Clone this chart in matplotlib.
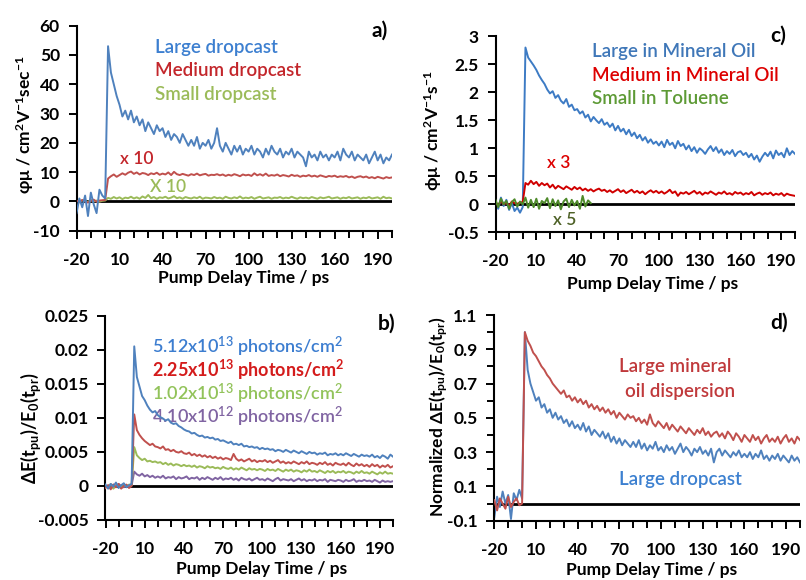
import numpy as np
import matplotlib
matplotlib.use("Agg")
import matplotlib.pyplot as plt

plt.rcParams['font.family'] = ['Lato', 'DejaVu Sans']
plt.rcParams['mathtext.default'] = 'regular'
plt.rcParams['axes.unicode_minus'] = False

# time grid (ps), shared by all traces
t = np.arange(-20, 201, 2)
t_toluene = np.arange(-20, 51, 2)

# ---- panel a: phi*mu, dropcast films
a_large = [-4, 1, -2, 2, -5, 3, -1, -4, 4, 2,
           1, 53, 44, 40, 36, 33, 29, 31, 28, 31,
           27, 29, 26, 28, 24, 27, 25, 23, 26, 24,
           25, 22, 24, 21, 23, 22, 20, 23, 21, 19,
           21, 19, 22, 18, 20, 19, 21, 18, 20, 25,
           19, 17, 20, 18, 16, 19, 17, 19, 16, 18,
           17, 19, 16, 18, 17, 15, 18, 16, 19, 17,
           16, 18, 15, 17, 16, 18, 15, 17, 16, 15,
           12, 17, 15, 16, 14, 17, 15, 16, 14, 16,
           15, 17, 14, 18, 16, 15, 17, 14, 16, 15,
           14, 16, 13, 15, 17, 14, 16, 13, 15, 14,
           16]
a_medium = [0.3, -0.2, 0.5, 0.0, -0.4, 0.2, 0.6, -0.1, 0.3, 0.4,
            0.5, 7.8, 8.6, 9.2, 8.4, 9.0, 9.6, 9.1, 9.8, 10.2,
            9.4, 9.9, 9.2, 9.7, 9.5, 9.0, 9.6, 9.3, 9.8, 9.1,
            9.5, 9.2, 9.9, 9.0, 10.1, 9.3, 9.0, 9.4, 9.1, 8.8,
            9.3, 9.0, 9.5, 8.9, 9.2, 9.4, 8.8, 9.1, 9.0, 9.3,
            8.9, 9.2, 8.7, 9.1, 8.8, 9.3, 9.0, 8.6, 9.2, 8.9,
            9.1, 8.7, 9.6, 8.9, 9.3, 8.8, 9.5, 8.7, 9.0, 8.8,
            9.2, 8.6, 9.0, 8.8, 8.5, 9.1, 8.7, 8.9, 8.4, 8.8,
            8.6, 9.0, 8.5, 8.8, 8.4, 8.9, 8.6, 8.3, 8.7, 8.5,
            8.8, 8.3, 8.6, 8.4, 8.7, 8.2, 8.5, 8.0, 8.4, 8.6,
            8.2, 8.5, 8.0, 8.3, 7.9, 8.4, 8.1, 7.8, 8.3, 8.0,
            8.2]
a_small = [0.2, -0.3, 0.4, 0.1, -0.2, 0.5, 0.0, 0.3, -0.1, 0.2,
           0.3, 1.2, 0.9, 1.5, 1.0, 1.4, 0.8, 1.3, 1.1, 1.6,
           1.0, 1.4, 0.9, 1.7, 1.2, 2.2, 1.1, 1.5, 0.9, 1.4,
           1.2, 1.6, 1.0, 1.3, 1.8, 1.1, 1.4, 0.9, 1.5, 1.2,
           1.0, 1.4, 1.1, 1.6, 0.9, 1.3, 1.2, 1.0, 1.5, 1.1,
           1.3, 0.9, 1.6, 1.2, 1.0, 1.4, 1.1, 1.7, 1.0, 1.3,
           1.1, 1.5, 0.9, 1.3, 1.6, 1.0, 1.2, 1.4, 0.9, 1.3,
           1.2, 1.5, 1.0, 1.3, 1.1, 1.6, 1.2, 0.9, 1.4, 1.1,
           1.3, 1.0, 1.5, 1.2, 0.9, 1.4, 1.1, 1.3, 1.6, 1.0,
           1.2, 1.4, 0.9, 1.3, 1.1, 1.5, 1.0, 1.2, 1.4, 0.9,
           1.3, 1.1, 1.5, 1.0, 1.2, 1.4, 0.9, 1.6, 1.1, 1.3,
           1.0]

# ---- panel c: phi*mu, dispersions
c_large = [0.05, -0.08, 0.12, -0.03, 0.08, -0.10, 0.02, -0.12, -0.06, -0.15,
           -0.05, 2.80, 2.62, 2.55, 2.48, 2.40, 2.30, 2.22, 2.15, 2.05,
           1.98, 2.02, 1.90, 1.95, 1.85, 1.80, 1.88, 1.74, 1.78, 1.68,
           1.70, 1.62, 1.66, 1.55, 1.60, 1.48, 1.56, 1.50, 1.45, 1.52,
           1.42, 1.46, 1.38, 1.44, 1.32, 1.40, 1.30, 1.35, 1.25, 1.33,
           1.22, 1.28, 1.18, 1.24, 1.14, 1.20, 1.10, 1.16, 1.08, 1.12,
           1.05, 1.12, 1.02, 1.15, 1.06, 1.10, 1.00, 1.13, 1.04, 1.08,
           0.98, 1.05, 0.95, 1.02, 0.92, 1.00, 0.96, 0.90, 0.98, 1.04,
           0.95, 1.02, 0.92, 0.98, 0.88, 0.95, 0.90, 0.97, 0.86, 0.93,
           0.95, 0.88, 0.92, 0.84, 0.90, 0.80, 0.87, 0.76, 0.85, 0.92,
           0.86, 0.94, 0.82, 0.96, 0.88, 0.92, 0.84, 1.00, 0.88, 0.95,
           0.90]
c_medium = [0.04, -0.02, 0.06, 0.00, 0.03, -0.03, 0.05, 0.02, 0.01, 0.03,
            0.04, 0.38, 0.35, 0.42, 0.36, 0.40, 0.33, 0.38, 0.34, 0.37,
            0.30, 0.35, 0.28, 0.33, 0.30, 0.27, 0.32, 0.29, 0.26, 0.31,
            0.27, 0.30, 0.25, 0.28, 0.24, 0.27, 0.23, 0.26, 0.28, 0.24,
            0.26, 0.22, 0.25, 0.21, 0.24, 0.27, 0.22, 0.25, 0.20, 0.23,
            0.26, 0.21, 0.24, 0.20, 0.23, 0.18, 0.22, 0.25, 0.21, 0.24,
            0.20, 0.23, 0.19, 0.22, 0.26, 0.20, 0.23, 0.15, 0.21, 0.19,
            0.22, 0.18, 0.21, 0.24, 0.19, 0.22, 0.17, 0.21, 0.19, 0.23,
            0.20, 0.17, 0.21, 0.19, 0.23, 0.18, 0.20, 0.17, 0.22, 0.19,
            0.21, 0.17, 0.20, 0.18, 0.22, 0.16, 0.19, 0.21, 0.17, 0.20,
            0.18, 0.21, 0.16, 0.19, 0.17, 0.20, 0.15, 0.19, 0.17, 0.16,
            0.15]
c_small = [0.08, -0.05, 0.10, 0.00, 0.06, -0.08, 0.04, 0.09, -0.04, 0.05,
           0.00, 0.12, -0.06, 0.08, -0.05, 0.10, -0.08, 0.06, 0.02, 0.11,
           -0.07, 0.09, -0.03, 0.07, -0.09, 0.05, 0.10, -0.05, 0.08, -0.02,
           0.06, -0.08, 0.15, -0.04, 0.07, 0.02]

# ---- panel b: dE/E0, large dropcast at four fluences
b_512e13 = [0.0002, -0.0004, 0.0003, -0.0001, 0.0005, -0.0003, 0.0001, 0.0004, -0.0002, 0.0001,
            0.0003, 0.0205, 0.0160, 0.0146, 0.0132, 0.0126, 0.0118, 0.0112, 0.0108, 0.0110,
            0.0104, 0.0101, 0.0099, 0.0096, 0.0098, 0.0093, 0.0091, 0.0092, 0.0088, 0.0086,
            0.0083, 0.0081, 0.0080, 0.0077, 0.0078, 0.0075, 0.0073, 0.0074, 0.0071, 0.0072,
            0.0070, 0.0071, 0.0068, 0.0069, 0.0066, 0.0067, 0.0065, 0.0063, 0.0065, 0.0061,
            0.0062, 0.0060, 0.0062, 0.0058, 0.0059, 0.0057, 0.0058, 0.0056, 0.0057, 0.0054,
            0.0056, 0.0054, 0.0055, 0.0053, 0.0054, 0.0051, 0.0053, 0.0052, 0.0050, 0.0053,
            0.0051, 0.0049, 0.0052, 0.0050, 0.0048, 0.0051, 0.0049, 0.0047, 0.0050, 0.0048,
            0.0049, 0.0046, 0.0048, 0.0047, 0.0049, 0.0045, 0.0047, 0.0046, 0.0048, 0.0045,
            0.0047, 0.0045, 0.0048, 0.0046, 0.0044, 0.0047, 0.0045, 0.0043, 0.0046, 0.0044,
            0.0045, 0.0043, 0.0046, 0.0042, 0.0044, 0.0041, 0.0045, 0.0043, 0.0040, 0.0046,
            0.0043]
b_225e13 = [-0.0003, 0.0001, -0.0005, 0.0002, -0.0002, 0.0003, -0.0004, 0.0000, 0.0002, -0.0003,
            0.0000, 0.0105, 0.0082, 0.0075, 0.0070, 0.0066, 0.0063, 0.0060, 0.0062, 0.0058,
            0.0057, 0.0055, 0.0058, 0.0053, 0.0054, 0.0051, 0.0053, 0.0050, 0.0049, 0.0051,
            0.0048, 0.0047, 0.0049, 0.0045, 0.0047, 0.0044, 0.0046, 0.0043, 0.0045, 0.0042,
            0.0044, 0.0041, 0.0043, 0.0040, 0.0042, 0.0039, 0.0041, 0.0040, 0.0038, 0.0047,
            0.0040, 0.0037, 0.0039, 0.0036, 0.0038, 0.0040, 0.0036, 0.0038, 0.0035, 0.0037,
            0.0036, 0.0038, 0.0035, 0.0037, 0.0034, 0.0036, 0.0038, 0.0034, 0.0036, 0.0033,
            0.0035, 0.0033, 0.0036, 0.0034, 0.0032, 0.0035, 0.0033, 0.0036, 0.0032, 0.0034,
            0.0033, 0.0031, 0.0034, 0.0032, 0.0035, 0.0031, 0.0033, 0.0030, 0.0034, 0.0032,
            0.0031, 0.0033, 0.0030, 0.0034, 0.0031, 0.0029, 0.0033, 0.0030, 0.0032, 0.0029,
            0.0031, 0.0028, 0.0032, 0.0029, 0.0031, 0.0027, 0.0030, 0.0028, 0.0031, 0.0027,
            0.0029]
b_102e13 = [0.0001, -0.0002, 0.0003, -0.0004, 0.0000, 0.0002, -0.0003, 0.0001, -0.0001, 0.0002,
            0.0001, 0.0057, 0.0045, 0.0041, 0.0038, 0.0040, 0.0036, 0.0037, 0.0035, 0.0036,
            0.0034, 0.0035, 0.0032, 0.0034, 0.0031, 0.0033, 0.0030, 0.0032, 0.0031, 0.0029,
            0.0031, 0.0029, 0.0030, 0.0028, 0.0030, 0.0027, 0.0029, 0.0028, 0.0026, 0.0029,
            0.0027, 0.0028, 0.0026, 0.0027, 0.0025, 0.0028, 0.0026, 0.0025, 0.0027, 0.0024,
            0.0026, 0.0024, 0.0027, 0.0025, 0.0023, 0.0026, 0.0024, 0.0025, 0.0023, 0.0025,
            0.0024, 0.0022, 0.0025, 0.0023, 0.0024, 0.0022, 0.0025, 0.0023, 0.0021, 0.0024,
            0.0022, 0.0024, 0.0021, 0.0023, 0.0022, 0.0020, 0.0023, 0.0021, 0.0024, 0.0021,
            0.0022, 0.0020, 0.0023, 0.0021, 0.0019, 0.0022, 0.0020, 0.0022, 0.0019, 0.0021,
            0.0020, 0.0022, 0.0019, 0.0021, 0.0020, 0.0018, 0.0021, 0.0019, 0.0022, 0.0019,
            0.0020, 0.0018, 0.0021, 0.0019, 0.0017, 0.0020, 0.0018, 0.0021, 0.0018, 0.0019,
            0.0018]
b_410e12 = [-0.0002, 0.0001, -0.0003, 0.0002, -0.0001, 0.0003, 0.0000, -0.0002, 0.0001, -0.0001,
            0.0001, 0.0021, 0.0017, 0.0015, 0.0018, 0.0014, 0.0016, 0.0013, 0.0015, 0.0012,
            0.0014, 0.0012, 0.0015, 0.0011, 0.0013, 0.0012, 0.0014, 0.0010, 0.0013, 0.0011,
            0.0012, 0.0014, 0.0010, 0.0012, 0.0011, 0.0013, 0.0009, 0.0012, 0.0010, 0.0013,
            0.0011, 0.0009, 0.0012, 0.0010, 0.0013, 0.0009, 0.0011, 0.0010, 0.0012, 0.0009,
            0.0011, 0.0008, 0.0012, 0.0010, 0.0009, 0.0011, 0.0008, 0.0010, 0.0012, 0.0009,
            0.0010, 0.0008, 0.0011, 0.0009, 0.0007, 0.0010, 0.0012, 0.0008, 0.0010, 0.0009,
            0.0008, 0.0010, 0.0007, 0.0009, 0.0011, 0.0008, 0.0010, 0.0007, 0.0009, 0.0008,
            0.0010, 0.0007, 0.0009, 0.0008, 0.0010, 0.0006, 0.0009, 0.0008, 0.0007, 0.0009,
            0.0008, 0.0006, 0.0009, 0.0007, 0.0008, 0.0010, 0.0006, 0.0008, 0.0007, 0.0009,
            0.0007, 0.0008, 0.0006, 0.0009, 0.0007, 0.0005, 0.0008, 0.0006, 0.0007, 0.0006,
            0.0007]

# ---- panel d: normalized dE/E0
d_dropcast = [-0.08, 0.04, -0.02, 0.07, 0.00, 0.05, -0.09, 0.06, 0.02, 0.08,
              0.03, 1.00, 0.78, 0.70, 0.65, 0.60, 0.62, 0.56, 0.58, 0.53,
              0.55, 0.50, 0.53, 0.49, 0.51, 0.47, 0.49, 0.45, 0.48, 0.44,
              0.46, 0.43, 0.47, 0.42, 0.45, 0.40, 0.43, 0.41, 0.39, 0.42,
              0.38, 0.41, 0.36, 0.39, 0.35, 0.38, 0.34, 0.37, 0.35, 0.33,
              0.36, 0.33, 0.37, 0.32, 0.35, 0.31, 0.34, 0.32, 0.36, 0.31,
              0.33, 0.30, 0.34, 0.31, 0.33, 0.29, 0.32, 0.35, 0.30, 0.33,
              0.31, 0.28, 0.32, 0.30, 0.33, 0.29, 0.31, 0.28, 0.32, 0.24,
              0.30, 0.32, 0.28, 0.31, 0.29, 0.27, 0.30, 0.28, 0.31, 0.27,
              0.29, 0.27, 0.30, 0.26, 0.29, 0.27, 0.31, 0.26, 0.28, 0.25,
              0.28, 0.26, 0.29, 0.25, 0.28, 0.26, 0.24, 0.28, 0.25, 0.27,
              0.24]
d_oil = [0.02, -0.04, 0.03, 0.00, -0.03, 0.04, -0.02, 0.01, 0.03, -0.01,
         0.00, 1.00, 0.95, 0.92, 0.88, 0.86, 0.83, 0.80, 0.78, 0.75,
         0.73, 0.70, 0.68, 0.66, 0.64, 0.66, 0.62, 0.63, 0.60, 0.62,
         0.59, 0.61, 0.58, 0.60, 0.56, 0.58, 0.55, 0.57, 0.54, 0.56,
         0.53, 0.55, 0.52, 0.54, 0.50, 0.53, 0.51, 0.49, 0.52, 0.50,
         0.51, 0.48, 0.50, 0.47, 0.49, 0.46, 0.52, 0.47, 0.45, 0.48,
         0.46, 0.44, 0.47, 0.43, 0.46, 0.44, 0.42, 0.45, 0.43, 0.41,
         0.44, 0.42, 0.40, 0.43, 0.41, 0.44, 0.40, 0.42, 0.39, 0.41,
         0.42, 0.39, 0.41, 0.38, 0.42, 0.40, 0.37, 0.41, 0.39, 0.36,
         0.40, 0.38, 0.36, 0.40, 0.37, 0.39, 0.35, 0.38, 0.40, 0.36,
         0.38, 0.36, 0.39, 0.35, 0.38, 0.40, 0.36, 0.38, 0.35, 0.39,
         0.37]

# tick labels
x_ticks = [-20, 10, 40, 70, 100, 130, 160, 190]
a_yticks = [-10, 0, 10, 20, 30, 40, 50, 60]
c_yticks = [-0.5, 0, 0.5, 1, 1.5, 2, 2.5, 3]
c_ylabels = ['-0.5', '0', '0.5', '1', '1.5', '2', '2.5', '3']
b_yticks = [-0.005, 0, 0.005, 0.01, 0.015, 0.02, 0.025]
b_ylabels = ['-0.005', '0', '0.005', '0.01', '0.015', '0.02', '0.025']
d_yticks = [-0.1, 0.1, 0.3, 0.5, 0.7, 0.9, 1.1]
d_ylabels = ['-0.1', '0.1', '0.3', '0.5', '0.7', '0.9', '1.1']

W, H = 806, 580
LW = 1.4
SEMI = 'semibold'


def rect(l, r, top, bot):
    return [l / W, 1 - bot / H, (r - l) / W, (bot - top) / H]


def style(ax, ylim, yticks, ylabels, yminor=None):
    ax.set_xlim(-20, 200)
    ax.set_ylim(*ylim)
    ax.set_xticks(x_ticks)
    ax.set_xticklabels([str(v) for v in x_ticks])
    ax.set_xticks(np.arange(-20, 201, 10), minor=True)
    ax.set_yticks(yticks)
    ax.set_yticklabels(ylabels)
    if yminor is not None:
        ax.set_yticks(yminor, minor=True)
    for s in ['top', 'right']:
        ax.spines[s].set_visible(False)
    for s in ['left', 'bottom']:
        ax.spines[s].set_linewidth(1.5)
    ax.tick_params(which='major', length=6, width=1.4, labelsize=12.5, pad=6)
    ax.tick_params(which='minor', length=5, width=1.4)
    ax.tick_params(axis='x', pad=9)
    for lab in ax.get_xticklabels() + ax.get_yticklabels():
        lab.set_fontweight('bold')
    ax.axhline(0, color='black', lw=2, zorder=1)
    ax.set_facecolor('none')


fig = plt.figure(figsize=(W / 100, H / 100), dpi=100)

# ---------------- a)
ax = fig.add_axes(rect(76.5, 392, 25.7, 230.7))
ax.plot(t, a_small, color='#9bbb59', lw=LW, zorder=2)
ax.plot(t, a_medium, color='#c0504d', lw=LW, zorder=3)
ax.plot(t, a_large, color='#4f81bd', lw=LW, zorder=4)
style(ax, (-10, 60), a_yticks, [str(v) for v in a_yticks])
ax.set_ylabel('φμ / cm$^{2}$V$^{-1}$sec$^{-1}$', fontsize=12.5, fontweight='bold', va='center')
ax.yaxis.set_label_coords(-0.163, 0.516)
ax.set_xlabel('Pump Delay Time / ps', fontsize=12.5, fontweight='bold', va='center')
ax.xaxis.set_label_coords(0.531, -0.231)
ax.text(34.7, 50.7, 'Large dropcast', color='#3c7fd0', fontsize=13.5, fontweight=SEMI)
ax.text(34.7, 42.7, 'Medium dropcast', color='#c3262b', fontsize=13.5, fontweight=SEMI)
ax.text(34.7, 34.7, 'Small dropcast', color='#9bbb59', fontsize=13.5, fontweight=SEMI)
ax.text(10.4, 12.9, 'x 10', color='#c3262b', fontsize=12.5, fontweight=SEMI)
ax.text(31.3, 3.1, 'X 10', color='#9bbb59', fontsize=12.5, fontweight=SEMI)
ax.text(185.8, 56.2, 'a)', fontsize=15, fontweight='bold')

# ---------------- c)
ax = fig.add_axes(rect(495.5, 795, 36.3, 232.3))
ax.plot(t, c_large, color='#3d7bc4', lw=LW, zorder=2)
ax.plot(t, c_medium, color='#d00000', lw=LW, zorder=3)
ax.plot(t_toluene, c_small, color='#4e8a2a', lw=LW, zorder=4)
style(ax, (-0.5, 3), c_yticks, c_ylabels)
ax.set_ylabel('ϕμ / cm$^{2}$V$^{-1}$s$^{-1}$', fontsize=12.5, fontweight='bold', va='center')
ax.yaxis.set_label_coords(-0.209, 0.517)
ax.set_xlabel('Pump Delay Time / ps', fontsize=12.5, fontweight='bold', va='center')
ax.xaxis.set_label_coords(0.523, -0.264)
ax.text(50.6, 2.625, 'Large in Mineral Oil', color='#3f77b8', fontsize=13.5, fontweight=SEMI)
ax.text(50.6, 2.207, 'Medium in Mineral Oil', color='#dd0000', fontsize=13.5, fontweight=SEMI)
ax.text(50.6, 1.79, 'Small in Toluene', color='#5d9a35', fontsize=13.5, fontweight=SEMI)
ax.text(17.6, 0.643, 'x 3', color='#dd0000', fontsize=12.5, fontweight=SEMI)
ax.text(22.5, -0.37, 'x 5', color='#4f6228', fontsize=12.5, fontweight=SEMI)
ax.text(181.6, 2.90, 'c)', fontsize=15, fontweight='bold')

# ---------------- b)
ax = fig.add_axes(rect(105.5, 393, 315.7, 520))
ax.plot(t, b_410e12, color='#8064a2', lw=LW, zorder=2)
ax.plot(t, b_102e13, color='#9bbb59', lw=LW, zorder=3)
ax.plot(t, b_225e13, color='#c0504d', lw=LW, zorder=4)
ax.plot(t, b_512e13, color='#4f81bd', lw=LW, zorder=5)
style(ax, (-0.005, 0.025), b_yticks, b_ylabels)
ax.set_ylabel('ΔE(t$_{pu}$)/E$_{0}$(t$_{pr}$)', fontsize=13, fontweight='bold', va='center')
ax.yaxis.set_label_coords(-0.259, 0.45)
ax.set_xlabel('Pump Delay Time / ps', fontsize=12.5, fontweight='bold', va='center')
ax.xaxis.set_label_coords(0.544, -0.24)
ax.text(15.3, 0.01953, '5.12x10$^{13}$ photons/cm$^{2}$', color='#3c7dd0', fontsize=13,
        fontweight=SEMI)
ax.text(15.3, 0.01608, '2.25x10$^{13}$ photons/cm$^{2}$', color='#d41c1c', fontsize=13,
        fontweight='bold')
ax.text(15.3, 0.01264, '1.02x10$^{13}$ photons/cm$^{2}$', color='#92c35a', fontsize=13,
        fontweight=SEMI)
ax.text(15.3, 0.0092, '4.10x10$^{12}$ photons/cm$^{2}$', color='#8064a2', fontsize=13,
        fontweight=SEMI)
ax.text(188.5, 0.02297, 'b)', fontsize=15, fontweight='bold')

# ---------------- d)
ax = fig.add_axes(rect(494.3, 800, 315, 520.7))
ax.plot(t, d_dropcast, color='#4f81bd', lw=LW, zorder=2)
ax.plot(t, d_oil, color='#c0504d', lw=LW, zorder=3)
style(ax, (-0.1, 1.1), d_yticks, d_ylabels, yminor=np.arange(-0.1, 1.15, 0.1))
ax.set_ylabel('Normalized ΔE(t$_{pu}$)/E$_{0}$(t$_{pr}$)', fontsize=12.5, fontweight='bold',
              va='center')
ax.yaxis.set_label_coords(-0.181, 0.504)
ax.set_xlabel('Pump Delay Time / ps', fontsize=12.5, fontweight='bold', va='center')
ax.xaxis.set_label_coords(0.515, -0.24)
ax.text(110, 0.767, 'Large mineral', color='#c0393b', fontsize=13.5, ha='center', fontweight=SEMI)
ax.text(113.6, 0.624, 'oil dispersion', color='#c0393b', fontsize=13.5, ha='center',
        fontweight=SEMI)
ax.text(114, 0.108, 'Large dropcast', color='#3c80d0', fontsize=13.5, ha='center',
        fontweight=SEMI)
ax.text(178.4, 1.02, 'd)', fontsize=15, fontweight='bold')

fig.savefig('out.png', dpi=100)
